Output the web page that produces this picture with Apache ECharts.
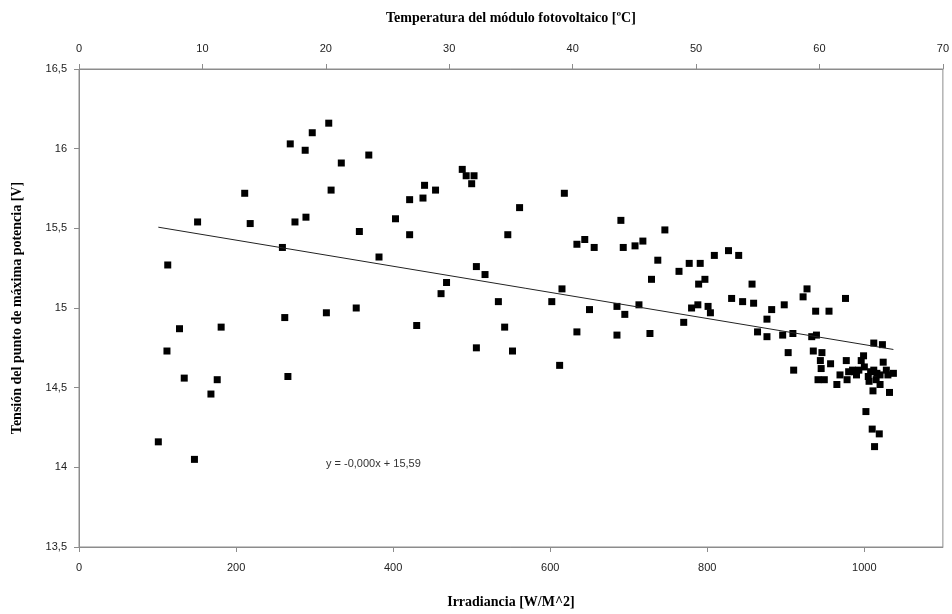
<!DOCTYPE html>
<html>
<head>
<meta charset="utf-8">
<script src="https://cdn.jsdelivr.net/npm/echarts@6/dist/echarts.min.js"></script>
<style>html,body{margin:0;padding:0;background:#fff}#c{width:952px;height:614px}</style>
</head>
<body>
<div id="c"></div>
<script>
// Irradiance [W/m^2]
var irradiance = [318,297,269,288,334,369,211,321,151,218,275,289,357,259,382,113,128,181,262,315,353,112,134,176,266,168,101,147,
403,421,440,438,454,421,488,493,503,500,561,618,546,506,517,468,461,534,602,615,430,542,506,552,612,634,650,685,695,685,713,727,
634,644,656,690,693,708,718,746,737,729,764,777,791,789,797,809,827,840,857,831,845,859,882,876,898,927,922,976,938,955,
780,788,801,804,770,864,876,896,909,933,939,903,910,935,946,944,945,957,941,949,965,969,978,977,990,985,996,999,993,1005,1006,
1012,1023,1024,1011,1020,1020,1028,1037,1032,1012,1016,1002,1010,1019,1013,1000,1008,980,1030,1015,988];
// Voltage at maximum power point [V]
var voltage = [16.16,16.10,16.03,15.99,15.91,15.96,15.72,15.74,15.54,15.53,15.54,15.57,15.48,15.38,15.32,15.27,14.87,14.88,14.94,14.97,15.00,14.73,14.56,14.55,14.57,14.46,14.16,14.05,
15.56,15.68,15.77,15.69,15.74,15.46,15.87,15.83,15.83,15.78,15.63,15.72,15.46,15.26,15.21,15.16,15.09,15.04,15.04,15.12,14.89,14.88,14.75,14.73,14.64,14.85,14.99,15.01,14.96,14.83,15.02,14.84,
15.40,15.43,15.38,15.55,15.38,15.39,15.42,15.49,15.30,15.18,15.23,15.28,15.28,15.15,15.18,15.33,15.36,15.33,15.15,15.06,15.04,15.03,14.99,14.93,15.02,15.12,15.07,15.06,14.98,14.98,
15.00,15.02,15.01,14.97,14.91,14.85,14.82,14.83,14.84,14.82,14.83,14.72,14.61,14.73,14.72,14.67,14.62,14.65,14.55,14.55,14.52,14.58,14.55,14.67,14.58,14.61,14.67,14.70,14.61,14.57,14.54,
14.78,14.77,14.66,14.48,14.52,14.58,14.61,14.59,14.47,14.61,14.59,14.35,14.24,14.21,14.13,14.63,14.60,14.60,14.58,14.55,14.60];
// Trendline: y = slope*x + intercept
var trendSlope = -0.00082;
var trendIntercept = 15.59;
var trendLabel = 'y = -0,000x + 15,59';
// Axis tick settings
var xTicks = {min: 0, max: 1100, interval: 200};
var tempTicks = {min: 0, max: 70, interval: 10};
var yTicks = {min: 13.5, max: 16.5, interval: 0.5};

var points = irradiance.map(function (x, i) { return [x, voltage[i]]; });
var xMin = Math.min.apply(null, irradiance), xMax = Math.max.apply(null, irradiance);
var trend = [[xMin, trendSlope * xMin + trendIntercept], [xMax, trendSlope * xMax + trendIntercept]];

var gray = '#8c8c8c';
var labelFont = {color: '#222', fontSize: 11, fontFamily: 'Liberation Sans'};
var nameFont = {color: '#000', fontSize: 14, fontWeight: 'bold', fontFamily: 'Liberation Serif'};
function plain(v) { return String(v).replace('.', ','); }

var chart = echarts.init(document.getElementById('c'));
chart.setOption({
  animation: false,
  grid: {left: 79, right: 9, top: 69, bottom: 61, show: true, borderColor: gray, borderWidth: 1},
  xAxis: [{
    type: 'value', position: 'bottom', min: xTicks.min, max: xTicks.max, interval: xTicks.interval,
    name: 'Irradiancia [W/M^2]', nameLocation: 'middle', nameGap: 48, nameTextStyle: nameFont,
    axisLine: {show: true, lineStyle: {color: gray}},
    axisTick: {show: true, length: 5, lineStyle: {color: gray}},
    axisLabel: Object.assign({margin: 15, showMaxLabel: false, formatter: plain}, labelFont),
    splitLine: {show: false}
  }, {
    type: 'value', position: 'top', min: tempTicks.min, max: tempTicks.max, interval: tempTicks.interval,
    name: 'Temperatura del módulo fotovoltaico [ºC]', nameLocation: 'middle', nameGap: 44, nameTextStyle: nameFont,
    axisLine: {show: true, lineStyle: {color: gray}},
    axisTick: {show: true, length: 5, lineStyle: {color: gray}},
    axisLabel: Object.assign({margin: 15, formatter: plain}, labelFont),
    splitLine: {show: false}
  }],
  yAxis: {
    type: 'value', min: yTicks.min, max: yTicks.max, interval: yTicks.interval,
    name: 'Tensión del punto de máxima potencia [V]', nameLocation: 'middle', nameGap: 55, nameTextStyle: nameFont,
    axisLine: {show: true, lineStyle: {color: gray}},
    axisTick: {show: true, length: 5, lineStyle: {color: gray}},
    axisLabel: Object.assign({margin: 12, formatter: plain}, labelFont),
    splitLine: {show: false}
  },
  series: [{
    type: 'scatter', xAxisIndex: 0, data: points, symbol: 'rect', symbolSize: 7,
    itemStyle: {color: '#000', opacity: 1}
  }, {
    type: 'line', xAxisIndex: 0, data: trend, symbol: 'none',
    lineStyle: {color: '#222', width: 1}
  }],
  graphic: [{
    type: 'text', left: 326, top: 458,
    style: {text: trendLabel, fill: '#333', font: '11px "Liberation Sans"'}
  }]
});
</script>
</body>
</html>
